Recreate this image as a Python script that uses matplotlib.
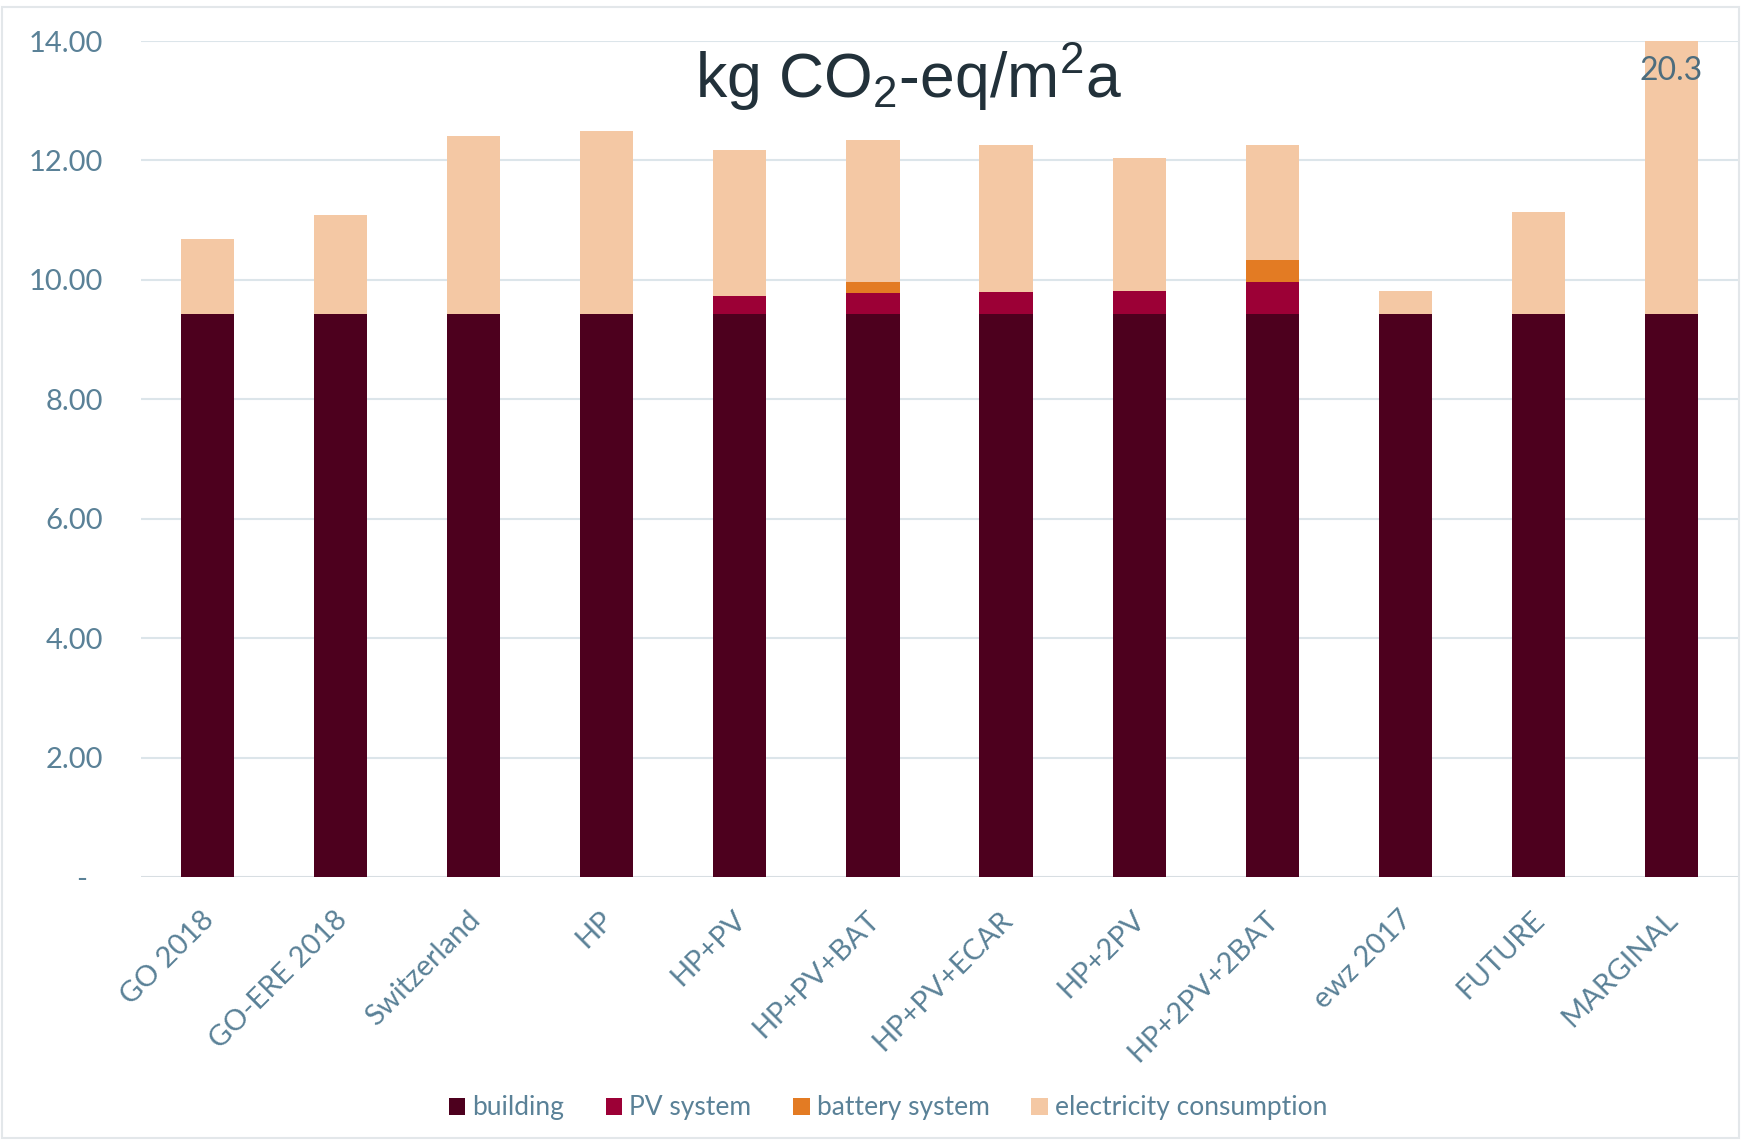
import matplotlib
matplotlib.use("Agg")
import matplotlib.pyplot as plt
import matplotlib.transforms as mtransforms
from matplotlib.patches import Rectangle
from matplotlib.ticker import FixedLocator, FuncFormatter
import numpy as np

# ---- data: kg CO2-eq per m2 and year ----
categories = ["GO 2018", "GO-ERE 2018", "Switzerland", "HP", "HP+PV", "HP+PV+BAT",
              "HP+PV+ECAR", "HP+2PV", "HP+2PV+2BAT", "ewz 2017", "FUTURE", "MARGINAL"]
building = [9.42, 9.42, 9.42, 9.42, 9.42, 9.42, 9.42, 9.42, 9.42, 9.42, 9.42, 9.42]
pv_system = [0.0, 0.0, 0.0, 0.0, 0.31, 0.36, 0.37, 0.40, 0.54, 0.0, 0.0, 0.0]
battery_system = [0.0, 0.0, 0.0, 0.0, 0.0, 0.19, 0.0, 0.0, 0.37, 0.0, 0.0, 0.0]
electricity = [1.27, 1.66, 2.99, 3.07, 2.44, 2.37, 2.47, 2.22, 1.93, 0.39, 1.72, 10.88]
series_labels = ["building", "PV system", "battery system", "electricity consumption"]
y_ticks = [0, 2, 4, 6, 8, 10, 12, 14]

colors = ["#4d001e", "#9c0036", "#e37b23", "#f4c8a4"]
label_color = "#5a8197"

plt.rcParams["font.family"] = ["Lato", "DejaVu Sans"]
plt.rcParams["mathtext.fontset"] = "custom"
plt.rcParams["mathtext.rm"] = "Liberation Sans"
plt.rcParams["mathtext.it"] = "Liberation Sans"
plt.rcParams["mathtext.default"] = "rm"

W, H = 1741, 1141
fig = plt.figure(figsize=(W / 100, H / 100), dpi=100)
ax = fig.add_axes([141 / W, 1 - 877 / H, (1738 - 141) / W, (877 - 41) / H])

x = np.arange(len(categories))
stacks = [building, pv_system, battery_system, electricity]
bottom = np.zeros(len(categories))
handles = []
for vals, col, lab in zip(stacks, colors, series_labels):
    vals = np.asarray(vals, dtype=float)
    bc = ax.bar(x, vals, width=0.4, bottom=bottom, color=col, label=lab,
                linewidth=0, zorder=3)
    handles.append(bc)
    bottom = bottom + vals
totals = bottom

ax.set_xlim(-0.5, len(categories) - 0.5)
ax.set_ylim(0, 14)

# value label for the bar that runs off the scale
over = np.where(totals > 14)[0]
for i in over:
    ax.annotate(f"{totals[i]:.1f}", xy=(x[i], 14), xytext=(0, -21.5),
                textcoords="offset points", ha="center", va="center",
                fontsize=23, color="#4d6d7e", zorder=5)

ax.yaxis.set_major_locator(FixedLocator(y_ticks))
ax.yaxis.set_major_formatter(FuncFormatter(lambda v, p: "-  " if v == 0 else f"{v:.2f}"))
ax.tick_params(axis="y", length=0, pad=27.5, labelsize=21, labelcolor=label_color)

ax.set_xticks(x)
ax.set_xticklabels(categories, rotation=45, ha="right", va="top",
                   rotation_mode="anchor", fontsize=21, color=label_color)
ax.tick_params(axis="x", length=0, pad=21)
shift = mtransforms.ScaledTranslation(-0.07, 0, fig.dpi_scale_trans)
for lbl in ax.get_xticklabels():
    lbl.set_transform(lbl.get_transform() + shift)

for s in ax.spines.values():
    s.set_visible(False)
ax.grid(axis="y", color="#dce5ea", linewidth=1.5, zorder=0)
ax.set_axisbelow(True)
ax.axhline(0, color="#d8dee2", linewidth=2, zorder=2)

fig.text(908 / W, 1 - 98 / H, r"kg CO$_2$-eq/m$^2$a", fontsize=45,
         family="Liberation Sans", color="#22313a", ha="center", va="baseline")

leg = fig.legend(handles=handles, labels=series_labels, loc="center",
                 bbox_to_anchor=(888 / W, 1 - 1108 / H), ncol=4, frameon=False,
                 fontsize=19, handlelength=0.62, handleheight=0.62,
                 handletextpad=0.27, columnspacing=1.58, borderpad=0)
for t in leg.get_texts():
    t.set_color(label_color)

fig.add_artist(Rectangle((2 / W, 1 - 1138 / H), 1737 / W, 1131 / H,
                         transform=fig.transFigure, fill=False,
                         edgecolor="#e3e7ea", linewidth=1.5))

fig.savefig("out.png", dpi=100)
